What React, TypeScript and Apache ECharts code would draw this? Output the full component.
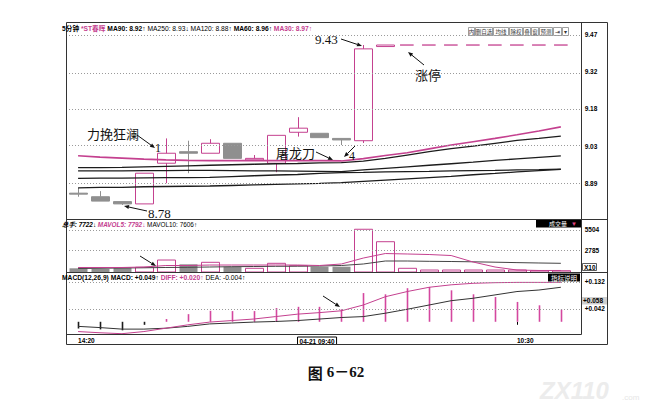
import React, { useEffect, useRef } from 'react';
import * as echarts from 'echarts';

const PINK = '#c4408f';
const GRAY = '#8f8f8f';
const DARK = '#1c1c1c';
const SANS = '"Liberation Sans", Arial, "DejaVu Sans", "Noto Sans CJK SC", sans-serif';
const CJK = '"Noto Sans CJK SC", sans-serif';
const SERIF = '"Liberation Serif", "DejaVu Serif", "Noto Sans CJK SC", serif';

// 5-minute bars, index 0 = 14:20
const TIME_INDEX = [0, 10, 20];
const TIME_TEXT = ['14:20', '04-21 09:40', '10:30'];

const OPEN = [8.851, 8.837, 8.818, 8.809, 8.968, 9.013, 9.007, 9.046, 8.981, 8.968, 9.089, 9.085, 9.065, 9.056, 9.424, 9.43, 9.43, 9.43, 9.43, 9.43, 9.43, 9.43, 9.43];
const CLOSE = [8.85, 8.82, 8.809, 8.929, 9.007, 9.007, 9.046, 8.987, 8.987, 9.077, 9.105, 9.068, 9.059, 9.415, 9.43, 9.43, 9.43, 9.43, 9.43, 9.43, 9.43, 9.43, 9.43];
const LOW = [8.837, 8.82, 8.805, 8.809, 8.89, 8.929, 9.007, 8.987, 8.981, 8.933, 9.072, 9.068, 9.039, 9.047, 9.424, 9.43, 9.43, 9.43, 9.43, 9.43, 9.43, 9.43, 9.43];
const HIGH = [8.871, 8.859, 8.818, 8.929, 9.065, 9.056, 9.062, 9.046, 9.0, 9.077, 9.148, 9.085, 9.065, 9.43, 9.43, 9.43, 9.43, 9.43, 9.43, 9.43, 9.43, 9.43, 9.43];

const MA30 = [8.997, 8.992, 8.988, 8.984, 8.981, 8.979, 8.978, 8.978, 8.978, 8.978, 8.978, 8.978, 8.977, 8.986, 8.998, 9.009, 9.024, 9.039, 9.052, 9.065, 9.079, 9.094, 9.11];
const MA60 = [8.951, 8.951, 8.952, 8.954, 8.956, 8.958, 8.96, 8.962, 8.964, 8.966, 8.967, 8.969, 8.97, 8.976, 8.987, 9.0, 9.013, 9.025, 9.035, 9.046, 9.057, 9.065, 9.074];
const MA250 = [8.938, 8.938, 8.938, 8.939, 8.939, 8.94, 8.94, 8.939, 8.938, 8.938, 8.937, 8.936, 8.935, 8.942, 8.948, 8.954, 8.96, 8.966, 8.972, 8.979, 8.985, 8.991, 8.997];
const MA90 = [8.909, 8.91, 8.91, 8.911, 8.912, 8.912, 8.913, 8.916, 8.919, 8.922, 8.924, 8.928, 8.931, 8.932, 8.934, 8.935, 8.936, 8.938, 8.939, 8.94, 8.942, 8.943, 8.945];
const MA120 = [8.872, 8.874, 8.874, 8.876, 8.877, 8.878, 8.879, 8.881, 8.883, 8.885, 8.887, 8.889, 8.892, 8.897, 8.902, 8.907, 8.912, 8.917, 8.923, 8.928, 8.934, 8.939, 8.944];

const VOLUME = [485, 390, 615, 615, 1570, 1010, 1270, 695, 485, 1140, 825, 695, 695, 5600, 3970, 485, 260, 260, 260, 260, 260, 170, 170];
const MAVOL5 = [590, 590, 590, 655, 850, 850, 915, 915, 915, 915, 915, 850, 1050, 1830, 2420, 2360, 2290, 2160, 1310, 655, 260, 200, 200];
const MAVOL10 = [460, 485, 525, 550, 590, 615, 655, 695, 720, 745, 760, 785, 850, 1050, 1440, 1440, 1400, 1375, 1335, 1285, 1230, 1180, 1140];

const MACD_BAR = [-0.022, -0.025, -0.028, -0.01, 0.009, 0.025, 0.036, 0.035, 0.035, 0.045, 0.049, 0.049, 0.041, 0.094, 0.09, 0.11, 0.114, 0.103, 0.09, 0.081, 0.065, 0.054, 0.04];
const DIFF = [-0.032, -0.036, -0.039, -0.032, -0.021, -0.01, -0.001, 0.004, 0.009, 0.017, 0.025, 0.03, 0.036, 0.055, 0.082, 0.099, 0.113, 0.121, 0.126, 0.128, 0.129, 0.129, 0.129];
const DEA = [-0.015, -0.019, -0.024, -0.024, -0.021, -0.015, -0.007, -0.004, -0.001, 0.001, 0.004, 0.009, 0.014, 0.017, 0.028, 0.041, 0.055, 0.069, 0.077, 0.088, 0.099, 0.104, 0.113];

const PRICE_TICKS = [9.47, 9.325, 9.18, 9.035, 8.89];
const PRICE_TICK_TEXT = ['9.47', '9.32', '9.18', '9.03', '8.89'];
const VOL_TICKS = [5504, 2785];
const VOL_TICK_TEXT = ['5504', '2785'];
const MACD_TICKS = [0.132, 0.042];
const MACD_TICK_TEXT = ['+0.132', '+0.042'];

const lookup = (vals: number[], texts: string[]) => (v: number) => {
  for (let i = 0; i < vals.length; i++) if (Math.abs(vals[i] - v) < 1e-6) return texts[i];
  return '';
};

const pairs = (arr: number[]) => arr.map((v, i) => [i, v]);

function arrow(x1: number, y1: number, x2: number, y2: number) {
  const a = Math.atan2(y2 - y1, x2 - x1);
  const L = 5, W = 2;
  const bx = x2 - L * Math.cos(a), by = y2 - L * Math.sin(a);
  const nx = -Math.sin(a) * W, ny = Math.cos(a) * W;
  return [
    { type: 'line', silent: true, z: 100, shape: { x1, y1, x2: bx, y2: by }, style: { stroke: '#111', lineWidth: 1 } },
    { type: 'polygon', silent: true, z: 100, shape: { points: [[x2, y2], [bx + nx, by + ny], [bx - nx, by - ny]] }, style: { fill: '#111' } },
  ];
}

function txt(x: number, y: number, text: string, style: any, z = 100) {
  return { type: 'text', x, y, z, silent: true, style: { text, verticalAlign: 'middle', ...style } };
}

const axisLabelBase = { fontSize: 6.5, fontWeight: 'bold', color: '#000', fontFamily: SANS };

function richSet(size: number) {
  return {
    k: { fontSize: size, fontWeight: 'bold', fill: '#000', fontFamily: SANS },
    p: { fontSize: size, fontWeight: 'bold', fill: PINK, fontFamily: SANS },
    b: { fontSize: size, fontWeight: 'bold', fill: '#000', fontFamily: SANS },
    i: { fontSize: size, fontWeight: 'bold', fontStyle: 'italic', fill: '#000', fontFamily: SANS },
    q: { fontSize: size, fontWeight: 'bold', fontStyle: 'italic', fill: PINK, fontFamily: SANS },
    n: { fontSize: size, fill: '#000', fontFamily: SANS },
  };
}

export default function App() {
  const ref = useRef<HTMLDivElement>(null);
  useEffect(() => {
    document.body.style.margin = '0';
    document.body.style.overflow = 'hidden';
    const chart = echarts.init(ref.current!, null, { renderer: 'svg' });

    const xBase = (k: number) => ({
      type: 'value', gridIndex: k, min: -0.55, max: 22.95,
      axisLine: { show: false }, axisTick: { show: false }, axisLabel: { show: false }, splitLine: { show: false },
    });
    const yBase = (k: number, min: number, max: number, ticks: number[], texts: string[]) => ({
      type: 'value', gridIndex: k, position: 'right', min, max,
      axisLine: { show: false }, axisTick: { show: false }, splitLine: { show: false },
      axisLabel: { ...axisLabelBase, margin: 3, customValues: ticks, formatter: lookup(ticks, texts) },
    });
    const dotted = (ticks: number[]) => ({
      silent: true, symbol: 'none', animation: false, label: { show: false },
      lineStyle: { color: '#9a9a9a', type: [1, 2], width: 1 },
      data: ticks.map((v) => ({ yAxis: v })),
    });
    const lineS = (data: number[], k: number, color: string, width: number, extra: any = {}) => ({
      type: 'line', xAxisIndex: k, yAxisIndex: k, data: pairs(data), symbol: 'none', showSymbol: false,
      lineStyle: { color, width }, itemStyle: { color }, z: 3, silent: true, ...extra,
    });

    const candleData = OPEN.map((o, i) => [i, o, CLOSE[i], LOW[i], HIGH[i]]);

    const renderCandle = (params: any, api: any) => {
      const i = api.value(0);
      const o = api.value(1), c = api.value(2), l = api.value(3), h = api.value(4);
      const up = c >= o;
      const color = up ? PINK : GRAY;
      const band = api.size([1, 0])[0];
      const w = band * 0.82;
      const pO = api.coord([i, o]);
      const pC = api.coord([i, c]);
      const pL = api.coord([i, l]);
      const pH = api.coord([i, h]);
      const x = Math.round(pO[0]) + 0.5;
      if (h === l) {
        return {
          type: 'line',
          shape: { x1: x - band * 0.34, y1: pO[1], x2: x + band * 0.28, y2: pO[1] },
          style: { stroke: PINK, lineWidth: 1.3 },
        };
      }
      const top = Math.min(pO[1], pC[1]);
      const bh = Math.max(Math.abs(pO[1] - pC[1]), 1);
      return {
        type: 'group',
        children: [
          { type: 'line', shape: { x1: x, y1: pH[1], x2: x, y2: top }, style: { stroke: color, lineWidth: 1 } },
          { type: 'line', shape: { x1: x, y1: top + bh, x2: x, y2: pL[1] }, style: { stroke: color, lineWidth: 1 } },
          {
            type: 'rect', shape: { x: x - w / 2, y: top, width: w, height: bh },
            style: up ? { fill: 'transparent', stroke: PINK, lineWidth: 1 } : { fill: GRAY, stroke: GRAY, lineWidth: 1 },
          },
        ],
      };
    };

    const renderVol = (params: any, api: any) => {
      const i = api.value(0), v = api.value(1);
      const idx = params.dataIndex;
      const up = CLOSE[idx] >= OPEN[idx];
      const p0 = api.coord([i, 0]);
      const p1 = api.coord([i, v]);
      const w = api.size([1, 0])[0] * 0.82;
      const x = Math.round(p0[0]) + 0.5;
      return {
        type: 'rect', shape: { x: x - w / 2, y: p1[1], width: w, height: p0[1] - p1[1] },
        style: up ? { fill: 'transparent', stroke: PINK, lineWidth: 1 } : { fill: GRAY },
      };
    };

    const renderMacd = (params: any, api: any) => {
      const i = api.value(0), v = api.value(1);
      const p0 = api.coord([i, 0]);
      const p1 = api.coord([i, v]);
      const x = Math.round(p0[0]);
      const top = Math.min(p0[1], p1[1]);
      return {
        type: 'rect',
        shape: { x: x - 0.3, y: top, width: 1.6, height: Math.abs(p1[1] - p0[1]) },
        style: { fill: v > 0 ? '#d4479f' : DARK },
      };
    };

    const buttons = [
      { t: '内', x: 468, w: 6 },
      { t: '删自选', x: 475, w: 17 },
      { t: '均线', x: 493, w: 15 },
      { t: '除权', x: 509, w: 13 },
      { t: '叠', x: 523, w: 7 },
      { t: '窗', x: 531, w: 7 },
      { t: '预测', x: 539, w: 13 },
      { t: '⇥', x: 553, w: 8 },
      { t: '▾', x: 562, w: 6 },
    ];

    const frameStroke = { stroke: '#333', lineWidth: 1 };
    const graphic: any[] = [
      { type: 'rect', silent: true, z: 50, shape: { x: 66.5, y: 22.5, width: 541, height: 322 }, style: { fill: 'transparent', ...frameStroke } },
      { type: 'line', silent: true, z: 50, shape: { x1: 581.5, y1: 22.5, x2: 581.5, y2: 334.5 }, style: frameStroke },
      { type: 'line', silent: true, z: 50, shape: { x1: 66.5, y1: 219.5, x2: 607.5, y2: 219.5 }, style: frameStroke },
      { type: 'line', silent: true, z: 50, shape: { x1: 66.5, y1: 272.5, x2: 607.5, y2: 272.5 }, style: frameStroke },
      { type: 'line', silent: true, z: 50, shape: { x1: 66.5, y1: 334.5, x2: 581.5, y2: 334.5 }, style: frameStroke },

      // headers
      txt(62, 28.5, '{k|5分钟} {p|*ST春晖} {b|MA90: 8.92↑} {n|MA250: 8.93↓} {n|MA120: 8.88↑} {b|MA60: 8.96↑} {p|MA30: 8.97↑}', {
        fontSize: 6.7, fontFamily: SANS, fill: '#000', rich: richSet(6.7),
      }),
      txt(62, 224.5, '{i|总手: 7722↓} {q|MAVOL5: 7792↓} {n|MAVOL10: 7606↑}', {
        fontSize: 6.4, fontFamily: SANS, rich: richSet(6.4),
      }),
      txt(62, 277.8, '{b|MACD(12,26,9) MACD: +0.049↑} {p|DIFF: +0.020↑} {n|DEA: -0.004↑}', {
        fontSize: 6.7, fontFamily: SANS, rich: richSet(6.7),
      }),

      // pane boxes
      { type: 'rect', silent: true, z: 60, shape: { x: 536, y: 220, width: 45, height: 7.5 }, style: { fill: '#000' } },
      txt(549, 223.8, '成交量', { fontSize: 6, fill: '#fff', fontFamily: CJK }, 61),
      txt(571, 223.8, '▼', { fontSize: 6, fill: '#e0407f', fontFamily: SANS }, 61),
      { type: 'rect', silent: true, z: 60, shape: { x: 548, y: 273.5, width: 32, height: 8 }, style: { fill: '#000' } },
      txt(564, 277.5, '指标说明', { fontSize: 6.5, fill: '#fff', fontFamily: CJK, align: 'center' }, 61),
      { type: 'rect', silent: true, z: 60, shape: { x: 582.5, y: 263.5, width: 14, height: 7 }, style: { fill: '#fff', stroke: '#333', lineWidth: 0.8 } },
      txt(584, 267, 'X10', { fontSize: 6.5, fontWeight: 'bold', fill: '#000', fontFamily: SANS }, 61),
      { type: 'rect', silent: true, z: 60, shape: { x: 582, y: 297, width: 25, height: 7.5 }, style: { fill: '#cfcfcf' } },
      txt(583, 300.8, '+0.058', { fontSize: 6.5, fontWeight: 'bold', fill: '#000', fontFamily: SANS }, 61),

      // annotations
      txt(87, 133, '力挽狂澜', { fontSize: 13, fill: '#111', fontFamily: CJK }),
      txt(155, 148, '1', { fontSize: 12, fill: '#111', fontFamily: SERIF }),
      txt(276, 152, '屠龙刀', { fontSize: 13, fill: '#111', fontFamily: CJK }),
      txt(349, 156, '4', { fontSize: 12, fill: '#111', fontFamily: SERIF }),
      txt(315, 39, '9.43', { fontSize: 13, fill: '#111', fontFamily: SERIF }),
      txt(415, 74, '涨停', { fontSize: 13, fill: '#111', fontFamily: CJK }),
      txt(148, 213, '8.78', { fontSize: 13, fill: '#111', fontFamily: SERIF }),
      ...arrow(137, 135, 155, 148),
      ...arrow(316, 152, 333, 160),
      ...arrow(355, 146, 344, 157),
      ...arrow(341, 39, 362, 46),
      ...arrow(424, 65, 408, 52),
      ...arrow(147, 211, 124, 206),
      ...arrow(140, 256, 156, 266),
      ...arrow(323, 296, 340, 307),

      // caption
      txt(336, 372, '{c|图} {d|6－62}', {
        align: 'center', fontSize: 15,
        rich: {
          c: { fontSize: 15, fontWeight: 'bold', fill: '#111', fontFamily: CJK },
          d: { fontSize: 15, fontWeight: 'bold', fill: '#111', fontFamily: SERIF },
        },
      }),
      txt(540, 390, 'ZX110', { fontSize: 24, fontWeight: 'bold', fontStyle: 'italic', fill: '#ececec', fontFamily: SANS }, 1),
      txt(622, 397, '.com', { fontSize: 8, fill: '#e6e6e6', fontFamily: SANS }, 1),
    ];
    buttons.forEach((b) => {
      graphic.push({ type: 'rect', silent: true, z: 60, shape: { x: b.x + 0.5, y: 27.5, width: b.w, height: 8 }, style: { fill: '#fff', stroke: '#888', lineWidth: 0.8 } });
      graphic.push(txt(b.x + 0.5 + b.w / 2, 31.6, b.t, { fontSize: 5.5, fill: '#333', fontFamily: CJK, align: 'center' }, 61));
    });

    chart.setOption({
      animation: false,
      backgroundColor: '#fff',
      grid: [
        { left: 66, right: 69.3, top: 22, height: 197 },
        { left: 66, right: 69.3, top: 219, height: 53 },
        { left: 66, right: 69.3, top: 272, height: 62 },
      ],
      xAxis: [
        xBase(0),
        xBase(1),
        {
          ...xBase(2),
          axisTick: { show: true, customValues: [TIME_INDEX[2]], length: 3, lineStyle: { color: '#000' } },
          axisLabel: {
            show: true, ...axisLabelBase, margin: 3, align: 'left',
            customValues: TIME_INDEX,
            formatter: (v: number) => {
              const t = lookup(TIME_INDEX, TIME_TEXT)(v);
              return v === TIME_INDEX[1] ? '{box|' + t + '}' : t;
            },
            rich: { box: { ...axisLabelBase, borderColor: '#000', borderWidth: 1, padding: [1, 2, 0, 2] } },
          },
        },
      ],
      yAxis: [
        yBase(0, 8.75, 9.52, PRICE_TICKS, PRICE_TICK_TEXT),
        yBase(1, 0, 6945, VOL_TICKS, VOL_TICK_TEXT),
        yBase(2, -0.04, 0.163, MACD_TICKS, MACD_TICK_TEXT),
      ],
      graphic,
      series: [
        { type: 'custom', xAxisIndex: 0, yAxisIndex: 0, data: candleData, renderItem: renderCandle, encode: { x: 0, y: [1, 2, 3, 4] }, z: 2, silent: true },
        lineS(MA120, 0, DARK, 1.3),
        lineS(MA90, 0, DARK, 1.3),
        lineS(MA250, 0, DARK, 1.3),
        lineS(MA60, 0, DARK, 1.3),
        lineS(MA30, 0, PINK, 1.6, { markLine: dotted(PRICE_TICKS) }),

        { type: 'custom', xAxisIndex: 1, yAxisIndex: 1, data: pairs(VOLUME), renderItem: renderVol, encode: { x: 0, y: 1 }, z: 2, silent: true },
        lineS(MAVOL10, 1, '#444', 1),
        lineS(MAVOL5, 1, PINK, 1, { markLine: dotted(VOL_TICKS) }),

        { type: 'custom', xAxisIndex: 2, yAxisIndex: 2, data: pairs(MACD_BAR), renderItem: renderMacd, encode: { x: 0, y: 1 }, z: 2, silent: true },
        lineS(DEA, 2, '#333', 1),
        lineS(DIFF, 2, PINK, 1, { markLine: dotted(MACD_TICKS) }),
      ],
    });
    return () => chart.dispose();
  }, []);
  return <div ref={ref} style={{ width: 651, height: 410 }} />;
}
